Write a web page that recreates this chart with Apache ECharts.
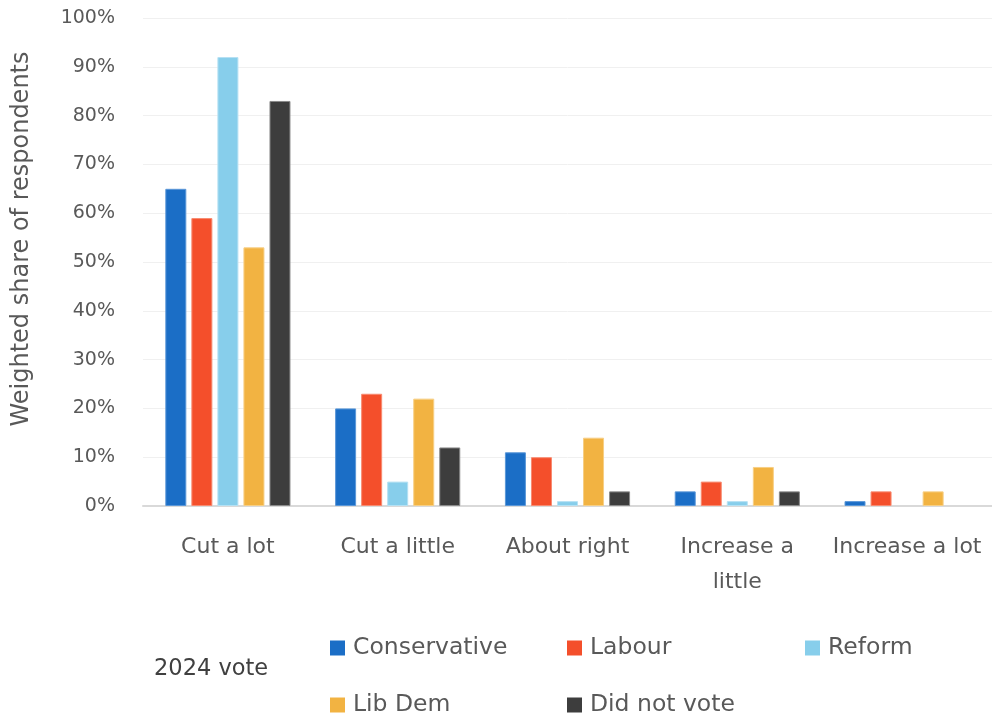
<!DOCTYPE html>
<html>
<head>
<meta charset="utf-8">
<script src="https://cdn.jsdelivr.net/npm/echarts@6/dist/echarts.min.js"></script>
<style>
  html, body { margin: 0; padding: 0; background: #fff; }
  #chart { width: 992px; height: 716px; }
</style>
</head>
<body>
<div id="chart"></div>
<script>
// Attitudes to spending, by 2024 vote (weighted %)
const categories = ['Cut a lot', 'Cut a little', 'About right', 'Increase a little', 'Increase a lot'];
const seriesNames = ['Conservative', 'Labour', 'Reform', 'Lib Dem', 'Did not vote'];
const conservative = [65, 20, 11, 3, 1];
const labour = [59, 23, 10, 5, 3];
const reform = [92, 5, 1, 1, 0];
const libDem = [53, 22, 14, 8, 3];
const didNotVote = [83, 12, 3, 3, 0];
const yTicks = [0, 10, 20, 30, 40, 50, 60, 70, 80, 90, 100];

const values = [conservative, labour, reform, libDem, didNotVote];
const colors = ['#1b6ec6', '#f44f2b', '#87ceeb', '#f2b342', '#3d3d3d'];
const borders = ['#5a97d8', '#f88a70', '#b6e1f3', '#f7cf85', '#8a8a8a'];
const FONT = '"DejaVu Sans", sans-serif';

const chart = echarts.init(document.getElementById('chart'), null, { renderer: 'canvas' });

// one legend block per series so the items sit on a fixed grid
const legendPos = [
  { left: 330, top: 636 }, { left: 567, top: 636 }, { left: 805, top: 636 },
  { left: 330, top: 693 }, { left: 567, top: 693 }
];
const legends = seriesNames.map((name, i) => ({
  data: [name],
  left: legendPos[i].left,
  top: legendPos[i].top,
  icon: 'rect',
  itemWidth: 15,
  itemHeight: 15,
  itemGap: 8,
  padding: 0,
  itemStyle: { borderWidth: 0 },
  textStyle: { fontFamily: FONT, fontSize: 23.5, color: '#595959', padding: [0, 0, 0, 3] }
}));

chart.setOption({
  animation: false,
  textStyle: { fontFamily: FONT },
  grid: { left: 143, right: 0, top: 18, bottom: 210, containLabel: false },
  legend: legends,
  graphic: [
    {
      type: 'text',
      left: 154, top: 658,
      style: { text: '2024 vote', font: '22.5px ' + FONT, fill: '#404040' }
    },
    {
      type: 'text',
      x: 22, y: 239,
      rotation: Math.PI / 2,
      style: {
        text: 'Weighted share of respondents',
        font: '24px ' + FONT, fill: '#595959',
        align: 'center', verticalAlign: 'middle'
      }
    }
  ],
  xAxis: {
    type: 'category',
    data: categories,
    axisLine: { lineStyle: { color: '#d9d9d9', width: 2 } },
    axisTick: { show: false },
    axisLabel: {
      interval: 0,
      margin: 24,
      fontSize: 22,
      lineHeight: 35,
      color: '#595959',
      fontFamily: FONT,
      formatter: v => v === 'Increase a little' ? 'Increase a\nlittle' : v
    }
  },
  yAxis: {
    type: 'value',
    min: 0, max: 100, interval: 10,
    axisLine: { show: false },
    axisTick: { show: false },
    splitLine: { lineStyle: { color: '#f0f0f0', width: 1 } },
    axisLabel: {
      margin: 28,
      fontSize: 19,
      color: '#595959',
      fontFamily: FONT,
      formatter: v => yTicks.includes(v) ? v + '%' : ''
    }
  },
  series: seriesNames.map((name, i) => ({
    name: name,
    type: 'bar',
    // a zero bar gets no outline so nothing shows on the baseline
    data: values[i].map(v => ({ value: v, itemStyle: { borderWidth: v === 0 ? 0 : 1 } })),
    barWidth: 21,
    barGap: '24%',
    itemStyle: { color: colors[i], borderColor: borders[i], borderWidth: 1 }
  }))
});
</script>
</body>
</html>
